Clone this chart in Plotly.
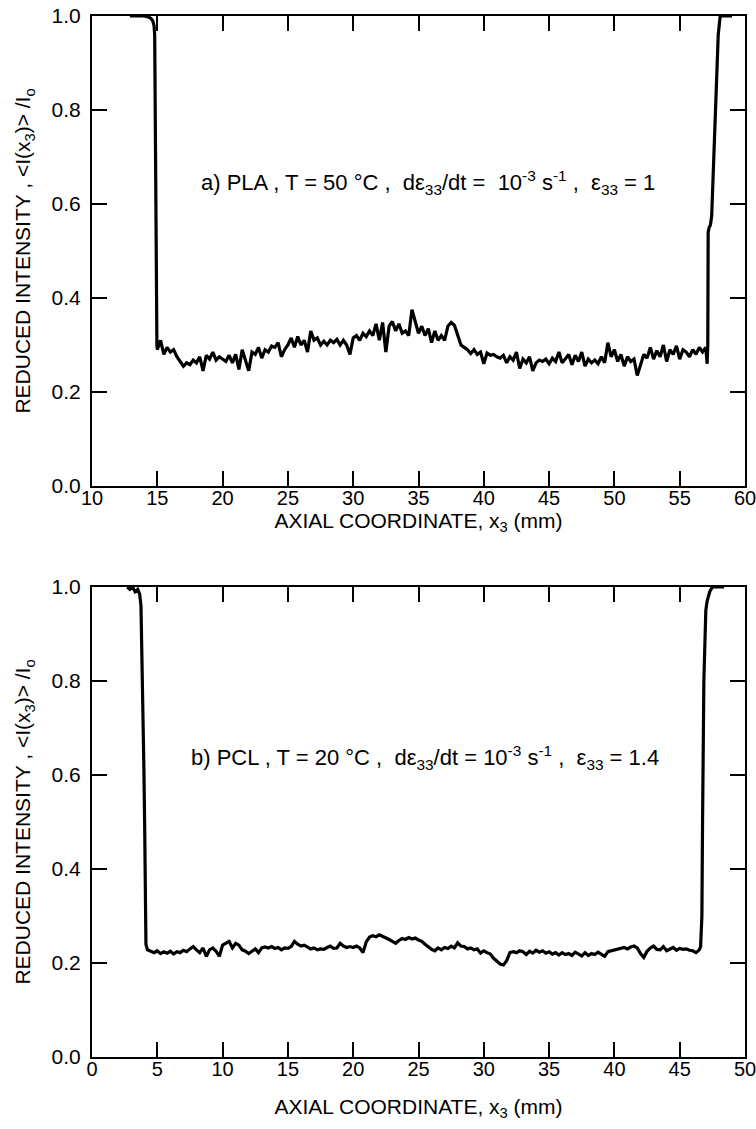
import numpy as np
import plotly.graph_objects as go
from plotly.subplots import make_subplots

# ---------------- Panel a) PLA ----------------
a_edge_left_x = [12.9, 13.5, 14.0, 14.3, 14.5, 14.65, 14.75, 14.8, 14.85, 14.92, 14.97]
a_edge_left_y = [1.0, 1.0, 1.0, 0.998, 0.995, 0.99, 0.98, 0.96, 0.70, 0.45, 0.30]

a_plateau_start, a_plateau_end = 15.0, 57.0
a_plateau_y = [
    0.29, 0.31, 0.28, 0.295, 0.285, 0.29, 0.275, 0.265, 0.255, 0.262,
    0.258, 0.268, 0.262, 0.275, 0.245, 0.278, 0.27, 0.285, 0.268, 0.275,
    0.27, 0.265, 0.278, 0.262, 0.28, 0.248, 0.29, 0.265, 0.245, 0.285,
    0.28, 0.295, 0.272, 0.29, 0.285, 0.298, 0.295, 0.305, 0.275, 0.29,
    0.30, 0.315, 0.295, 0.318, 0.30, 0.31, 0.285, 0.33, 0.31, 0.315,
    0.30, 0.308, 0.30, 0.31, 0.305, 0.312, 0.30, 0.31, 0.30, 0.28,
    0.315, 0.32, 0.31, 0.325, 0.318, 0.33, 0.32, 0.345, 0.31, 0.348,
    0.285, 0.34, 0.35, 0.33, 0.345, 0.325, 0.33, 0.32, 0.375, 0.35,
    0.325, 0.34, 0.32, 0.335, 0.305, 0.33, 0.31, 0.32, 0.31, 0.34,
    0.348, 0.342, 0.32, 0.30, 0.295, 0.29, 0.282, 0.29, 0.28, 0.285,
    0.26, 0.283, 0.278, 0.28, 0.275, 0.272, 0.278, 0.262, 0.275, 0.268,
    0.285, 0.25, 0.27, 0.262, 0.275, 0.245, 0.262, 0.268, 0.265, 0.27,
    0.26, 0.272, 0.265, 0.285, 0.262, 0.27, 0.28, 0.258, 0.278, 0.265,
    0.285, 0.255, 0.27, 0.262, 0.268, 0.26, 0.275, 0.262, 0.305, 0.275,
    0.29, 0.265, 0.28, 0.255, 0.275, 0.265, 0.27, 0.235, 0.26, 0.28,
    0.272, 0.295, 0.27, 0.288, 0.275, 0.30, 0.265, 0.29, 0.28, 0.298,
    0.27, 0.29, 0.285, 0.275, 0.29, 0.28, 0.295, 0.285, 0.295,
]

a_edge_right_x = [57.1, 57.15, 57.18, 57.25, 57.35, 57.45, 57.6, 57.8, 57.95, 58.1, 58.5, 59.0]
a_edge_right_y = [0.26, 0.30, 0.54, 0.55, 0.555, 0.575, 0.70, 0.86, 0.96, 1.0, 1.0, 1.0]

# ---------------- Panel b) PCL ----------------
b_edge_left_x = [2.7, 2.9, 3.1, 3.3, 3.5, 3.65, 3.75, 3.87, 3.97, 4.03, 4.13, 4.25]
b_edge_left_y = [1.0, 0.995, 1.0, 0.99, 0.995, 0.985, 0.96, 0.80, 0.62, 0.50, 0.24, 0.228]

b_plateau_start, b_plateau_end = 4.5, 46.5
b_plateau_y = [
    0.225, 0.222, 0.226, 0.22, 0.224, 0.221, 0.225, 0.219, 0.224, 0.222,
    0.227, 0.224, 0.23, 0.235, 0.228, 0.222, 0.232, 0.214, 0.228, 0.232,
    0.225, 0.214, 0.238, 0.243, 0.246, 0.232, 0.242, 0.238, 0.228, 0.225,
    0.22, 0.225, 0.23, 0.222, 0.232, 0.234, 0.232, 0.235, 0.231, 0.233,
    0.228, 0.232, 0.231, 0.235, 0.246, 0.24, 0.236, 0.238, 0.233, 0.23,
    0.232, 0.228, 0.23, 0.229, 0.233, 0.236, 0.231, 0.232, 0.242, 0.236,
    0.233, 0.235, 0.233, 0.236, 0.232, 0.222, 0.245, 0.255, 0.258, 0.256,
    0.26, 0.257, 0.254, 0.25, 0.246, 0.242, 0.248, 0.252, 0.25, 0.254,
    0.251, 0.253, 0.249, 0.246, 0.24, 0.234, 0.229, 0.226, 0.232, 0.228,
    0.233, 0.231, 0.236, 0.232, 0.243, 0.236, 0.235, 0.23, 0.232, 0.228,
    0.23, 0.221, 0.226, 0.222, 0.219, 0.21, 0.203, 0.198, 0.196, 0.205,
    0.222, 0.224, 0.222, 0.226, 0.224, 0.218, 0.225, 0.221, 0.227, 0.223,
    0.226, 0.221, 0.224, 0.219, 0.222, 0.217, 0.222, 0.218, 0.22, 0.216,
    0.223, 0.219, 0.215, 0.222, 0.216, 0.22, 0.218, 0.223, 0.219, 0.214,
    0.224, 0.226, 0.228, 0.229, 0.232, 0.233, 0.23, 0.234, 0.236, 0.232,
    0.22, 0.212, 0.225, 0.232, 0.236, 0.229, 0.228, 0.235, 0.226, 0.23,
    0.233, 0.227, 0.231, 0.229, 0.23, 0.227, 0.226, 0.222, 0.228,
]

b_edge_right_x = [46.6, 46.7, 46.75, 46.85, 47.0, 47.1, 47.3, 47.5, 48.0, 48.4]
b_edge_right_y = [0.235, 0.30, 0.50, 0.80, 0.95, 0.97, 0.99, 1.0, 1.0, 1.0]

a_x_ticks = [10, 15, 20, 25, 30, 35, 40, 45, 50, 55, 60]
b_x_ticks = [0, 5, 10, 15, 20, 25, 30, 35, 40, 45, 50]
y_ticks = [0.0, 0.2, 0.4, 0.6, 0.8, 1.0]

a_label = ("a) PLA , T = 50 °C ,&nbsp; dε<sub>33</sub>/dt =&nbsp; 10<sup>-3</sup> s<sup>-1</sup> ,&nbsp; "
           "ε<sub>33</sub> = 1")
b_label = ("b) PCL , T = 20 °C ,&nbsp; dε<sub>33</sub>/dt = 10<sup>-3</sup> s<sup>-1</sup> ,&nbsp; "
           "ε<sub>33</sub> = 1.4")
x_title = "AXIAL COORDINATE, x<sub>3</sub> (mm)"
y_title = "REDUCED INTENSITY , &lt;I(x<sub>3</sub>)&gt; /I<sub>o</sub>"

# ---------------- assemble ----------------
a_plateau_x = list(np.linspace(a_plateau_start, a_plateau_end, len(a_plateau_y)))
b_plateau_x = list(np.linspace(b_plateau_start, b_plateau_end, len(b_plateau_y)))

a_x = a_edge_left_x + a_plateau_x + a_edge_right_x
a_y = a_edge_left_y + a_plateau_y + a_edge_right_y
b_x = b_edge_left_x + b_plateau_x + b_edge_right_x
b_y = b_edge_left_y + b_plateau_y + b_edge_right_y

FONT = "Liberation Sans, Arial, sans-serif"
W, H = 756, 1129
ML, MR, MT, MB = 92, 11, 16, 72
plot_h = H - MT - MB
top_bottom_px = 486
bot_top_px = 587
d1 = (H - MB - top_bottom_px) / plot_h
d2 = (H - MB - bot_top_px) / plot_h

fig = make_subplots(rows=2, cols=1)
fig.add_trace(go.Scatter(x=a_x, y=a_y, mode="lines",
                         line=dict(color="black", width=3.2), showlegend=False), row=1, col=1)
fig.add_trace(go.Scatter(x=b_x, y=b_y, mode="lines",
                         line=dict(color="black", width=3.2), showlegend=False), row=2, col=1)

axis_common = dict(showline=True, linecolor="black", linewidth=2, mirror="ticks",
                   ticks="inside", ticklen=15, tickwidth=2, tickcolor="black",
                   showgrid=False, zeroline=False, automargin=False,
                   ticklabeloverflow="allow")

fig.update_xaxes(**axis_common, tickfont=dict(family=FONT, size=20, color="black"),
                 ticklabelstandoff=-7)
fig.update_yaxes(**axis_common, tickfont=dict(family=FONT, size=21, color="black"),
                 ticklabelstandoff=5)

fig.update_xaxes(range=[10, 60], tickvals=a_x_ticks, ticktext=[str(v) for v in a_x_ticks],
                 title=dict(text=x_title, font=dict(family=FONT, size=21, color="black"), standoff=0),
                 row=1, col=1)
fig.update_xaxes(range=[0, 50], tickvals=b_x_ticks, ticktext=[str(v) for v in b_x_ticks],
                 title=dict(text=x_title, font=dict(family=FONT, size=21, color="black"), standoff=20),
                 row=2, col=1)
fig.update_yaxes(domain=[d1, 1.0], row=1, col=1)
fig.update_yaxes(domain=[0.0, d2], row=2, col=1)
for r in (1, 2):
    fig.update_yaxes(range=[0, 1.0], tickvals=y_ticks, ticktext=[f"{v:.1f}" for v in y_ticks],
                     title=dict(text=y_title, font=dict(family=FONT, size=21, color="black"), standoff=15),
                     row=r, col=1)

fig.add_annotation(x=35.7, y=0.645, xref="x", yref="y", text=a_label, showarrow=False,
                   font=dict(family=FONT, size=22, color="black"), xanchor="center", yanchor="middle")
fig.add_annotation(x=25.5, y=0.638, xref="x2", yref="y2", text=b_label, showarrow=False,
                   font=dict(family=FONT, size=22, color="black"), xanchor="center", yanchor="middle")

fig.update_layout(width=W, height=H,
                  margin=dict(l=ML, r=MR, t=MT, b=MB),
                  paper_bgcolor="white", plot_bgcolor="white",
                  font=dict(family=FONT, color="black"))

# remove the browser's default 8px page margin so the figure sits at the window's corner
fig.write_html("out.html", config={"displayModeBar": False},
               post_script="document.body.style.margin='0';document.body.style.overflow='hidden';")
